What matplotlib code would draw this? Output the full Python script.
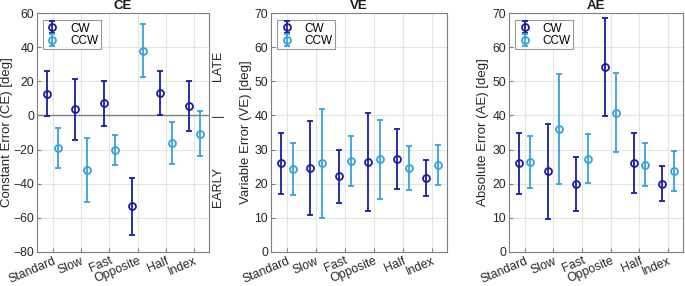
"""CE / VE / AE error-bar panels, CW vs CCW per condition."""
import matplotlib.pyplot as plt
import matplotlib.transforms as mtransforms
import numpy as np

conditions = ["Standard", "Slow", "Fast", "Opposite", "Half", "Index"]

ce_cw = [12.8, 3.6, 7.1, -53.2, 13.0, 5.4]
ce_cw_err = [13.0, 18.0, 13.2, 16.6, 13.0, 14.6]
ce_ccw = [-19.0, -32.2, -20.2, 37.9, -16.1, -10.6]
ce_ccw_err = [11.8, 18.8, 9.0, 15.4, 12.5, 13.2]

ve_cw = [26.0, 24.6, 22.2, 26.3, 27.2, 21.7]
ve_cw_err = [9.0, 13.8, 7.8, 14.3, 8.8, 5.2]
ve_ccw = [24.4, 26.0, 26.7, 27.1, 24.6, 25.4]
ve_ccw_err = [7.6, 16.0, 7.3, 11.6, 6.3, 5.9]

ae_cw = [26.0, 23.6, 20.0, 54.2, 26.2, 20.0]
ae_cw_err = [9.0, 13.8, 7.9, 14.4, 8.8, 5.2]
ae_ccw = [26.3, 36.0, 27.3, 40.8, 25.5, 23.8]
ae_ccw_err = [7.6, 16.0, 7.2, 11.6, 6.3, 5.9]

CW_COLOR = "#1c1c9e"
CCW_COLOR = "#36a2db"
GRAY = "#7f7f7f"
TXT = "#262626"

plt.rcParams["font.family"] = ["Liberation Sans", "DejaVu Sans"]

fig = plt.figure(figsize=(6.85, 2.86), dpi=100)
W, H = 685, 286
boxes = [(37, 209), (271, 447), (509, 683)]
label_x = [7.5, 246, 483]  # ylabel centres, px
top_px, bot_px = 13, 252

panels = [
    ("CE", "Constant Error (CE) [deg]", ce_cw, ce_cw_err, ce_ccw, ce_ccw_err, (-80, 60), 20),
    ("VE", "Variable Error (VE) [deg]", ve_cw, ve_cw_err, ve_ccw, ve_ccw_err, (0, 70), 10),
    ("AE", "Absolute Error (AE) [deg]", ae_cw, ae_cw_err, ae_ccw, ae_ccw_err, (0, 70), 10),
]

x = np.arange(1, len(conditions) + 1)
off = 0.2
shift = mtransforms.ScaledTranslation(6 / 100, -2 / 100, fig.dpi_scale_trans)

for (l, r), lx, (title, ylab, cw, cwe, ccw, ccwe, ylim, step) in zip(boxes, label_x, panels):
    ax = fig.add_axes([l / W, (H - bot_px) / H, (r - l) / W, (bot_px - top_px) / H])
    if title == "CE":
        ax.axhline(0, color=GRAY, lw=1, zorder=1)
    kw = dict(fmt="o", ms=5, mfc="none", mew=1.3, elinewidth=1.3, capsize=2.5, capthick=1.3)
    ax.errorbar(x - off, cw, yerr=cwe, color=CW_COLOR, label="CW", zorder=3, **kw)
    ax.errorbar(x + off, ccw, yerr=ccwe, color=CCW_COLOR, label="CCW", zorder=3, **kw)

    ax.set_xlim(0.45, 6.52)
    ax.set_ylim(*ylim)
    ax.set_yticks(np.arange(ylim[0], ylim[1] + 1, step))
    ax.set_xticks(x)
    ax.set_xticklabels(conditions, rotation=23, ha="right", va="top",
                       rotation_mode="anchor")
    for t in ax.get_xticklabels():
        t.set_transform(t.get_transform() + shift)
    ax.set_ylabel(ylab, fontsize=9.5, color=TXT, va="center")
    ax.yaxis.set_label_coords((lx - l) / (r - l), 0.5)
    ax.set_title(title, fontsize=9.5, fontweight="bold", pad=3, color="#1a1a1a")
    ax.grid(True, color="#e4e4e4", lw=0.8)
    ax.set_axisbelow(True)
    for s in ax.spines.values():
        s.set_color(GRAY)
    ax.tick_params(direction="in", length=3, color=GRAY, labelsize=8.8,
                   labelcolor=TXT, pad=2)

    leg = ax.legend(loc="upper left", fontsize=8.5, frameon=True, fancybox=False,
                    borderpad=0.2, labelspacing=0.05, handlelength=1.2,
                    handletextpad=0.9, borderaxespad=0,
                    bbox_to_anchor=(0.035, 0.97))
    leg.get_frame().set_edgecolor(GRAY)
    leg.get_frame().set_linewidth(0.8)

    if title == "CE":
        tr = ax.get_yaxis_transform()
        for yv, lab in [(29, "LATE"), (-42, "EARLY"), (0, "|")]:
            ax.text(1.05, yv, lab, rotation=90, transform=tr, ha="center",
                    va="center", fontsize=9, color=TXT)

fig.savefig("out.png", dpi=100, facecolor="white")
